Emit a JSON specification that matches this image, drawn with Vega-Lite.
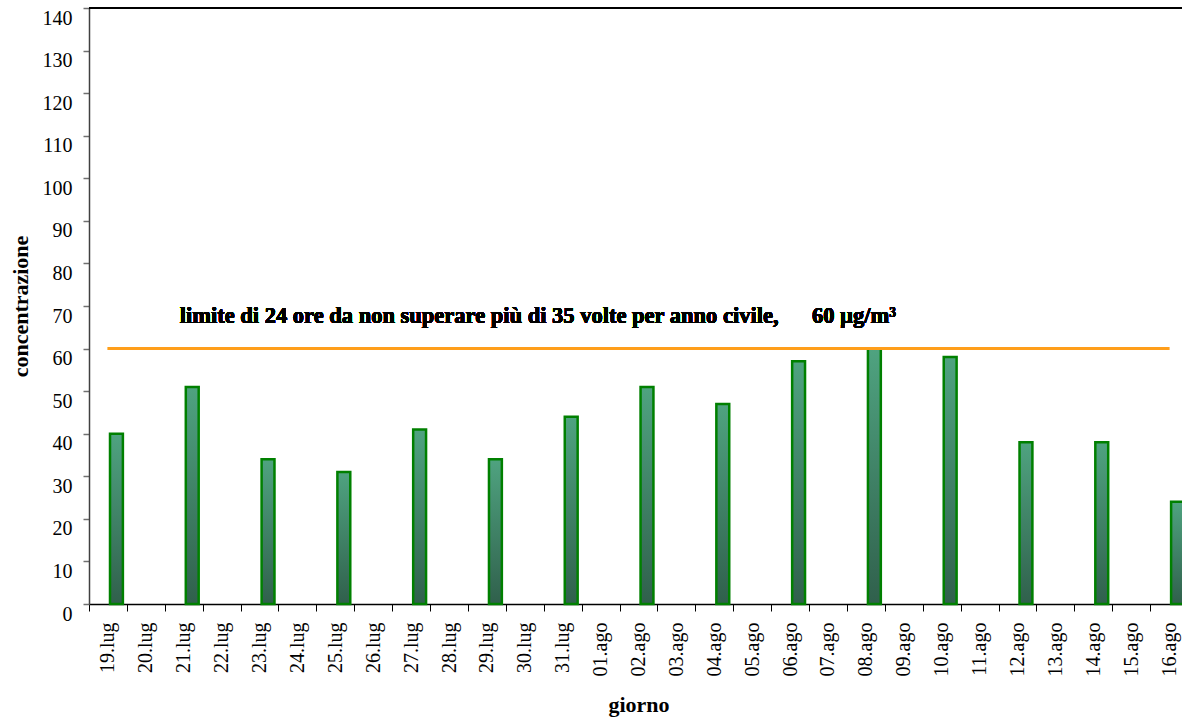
{
  "$schema": "https://vega.github.io/schema/vega-lite/v6.json",
  "width": 1093,
  "height": 596,
  "autosize": {"type": "none"},
  "padding": {"left": 89, "top": 8, "right": 0, "bottom": 117},
  "background": "white",
  "config": {"view": {"stroke": null}, "font": "Liberation Serif"},
  "data": {"values": [
    {"giorno": "19.lug", "concentrazione": 40},
    {"giorno": "21.lug", "concentrazione": 51},
    {"giorno": "23.lug", "concentrazione": 34},
    {"giorno": "25.lug", "concentrazione": 31},
    {"giorno": "27.lug", "concentrazione": 41},
    {"giorno": "29.lug", "concentrazione": 34},
    {"giorno": "31.lug", "concentrazione": 44},
    {"giorno": "02.ago", "concentrazione": 51},
    {"giorno": "04.ago", "concentrazione": 47},
    {"giorno": "06.ago", "concentrazione": 57},
    {"giorno": "08.ago", "concentrazione": 60},
    {"giorno": "10.ago", "concentrazione": 58},
    {"giorno": "12.ago", "concentrazione": 38},
    {"giorno": "14.ago", "concentrazione": 38},
    {"giorno": "16.ago", "concentrazione": 24}
  ]},
  "layer": [
    {
      "mark": {"type": "rule", "color": "black", "strokeWidth": 1.5},
      "encoding": {"y": {"datum": 140}}
    },
    {
      "mark": {
        "type": "bar",
        "width": {"band": 0.34},
        "xOffset": 8.5,
        "stroke": "#008000",
        "strokeWidth": 2.5,
        "fill": {
          "gradient": "linear", "x1": 0, "y1": 0, "x2": 0, "y2": 1,
          "stops": [{"offset": 0, "color": "#4fa380"}, {"offset": 1, "color": "#30604c"}]
        }
      },
      "encoding": {
        "x": {
          "field": "giorno", "type": "ordinal", "sort": null,
          "scale": {
            "domain": ["19.lug","20.lug","21.lug","22.lug","23.lug","24.lug","25.lug","26.lug","27.lug","28.lug","29.lug","30.lug","31.lug","01.ago","02.ago","03.ago","04.ago","05.ago","06.ago","07.ago","08.ago","09.ago","10.ago","11.ago","12.ago","13.ago","14.ago","15.ago","16.ago"],
            "range": [0, 1099],
            "paddingInner": 0, "paddingOuter": 0
          },
          "axis": {
            "title": "giorno",
            "labelAngle": -90,
            "labelFontSize": 20,
            "labelColor": "black",
            "labelOverlap": false,
            "tickBand": "extent",
            "tickSize": 7,
            "tickColor": "black",
            "domainColor": "black",
            "domainWidth": 1.5,
            "labelPadding": 11,
            "titleFontSize": 22,
            "titleFontWeight": "bold",
            "titleColor": "black",
            "titlePadding": 19,
            "grid": false
          }
        },
        "y": {
          "field": "concentrazione", "type": "quantitative",
          "scale": {"domain": [0, 140], "nice": false},
          "axis": {
            "title": "concentrazione",
            "values": [0,10,20,30,40,50,60,70,80,90,100,110,120,130,140],
            "grid": false,
            "domainColor": "#404040",
            "domainWidth": 1.5,
            "tickColor": "#707070",
            "tickSize": 6,
            "tickWidth": 1.5,
            "labelFontSize": 20,
            "labelColor": "black",
            "labelPadding": 11,
            "labelOffset": 10,
            "labelOverlap": false,
            "titleFontSize": 22,
            "titleFontWeight": "bold",
            "titleColor": "black",
            "titlePadding": 10
          }
        }
      }
    },
    {
      "mark": {"type": "rule", "color": "#FF9E1A", "strokeWidth": 3},
      "encoding": {"x": {"datum": "19.lug"}, "x2": {"datum": "16.ago"}, "y": {"datum": 60}}
    },
    {
      "mark": {"type": "text", "text": "limite di 24 ore da non superare più di 35 volte per anno civile,", "fontWeight": "bold", "fontSize": 22.5, "align": "left", "baseline": "alphabetic", "dx": -4, "color": "black"},
      "encoding": {"x": {"datum": "21.lug"}, "y": {"datum": 66}}
    },
    {
      "mark": {"type": "text", "text": "60 µg/m³", "fontWeight": "bold", "fontSize": 22.5, "align": "left", "baseline": "alphabetic", "dx": -16, "color": "black"},
      "encoding": {"x": {"datum": "07.ago"}, "y": {"datum": 66}}
    }
  ]
}
